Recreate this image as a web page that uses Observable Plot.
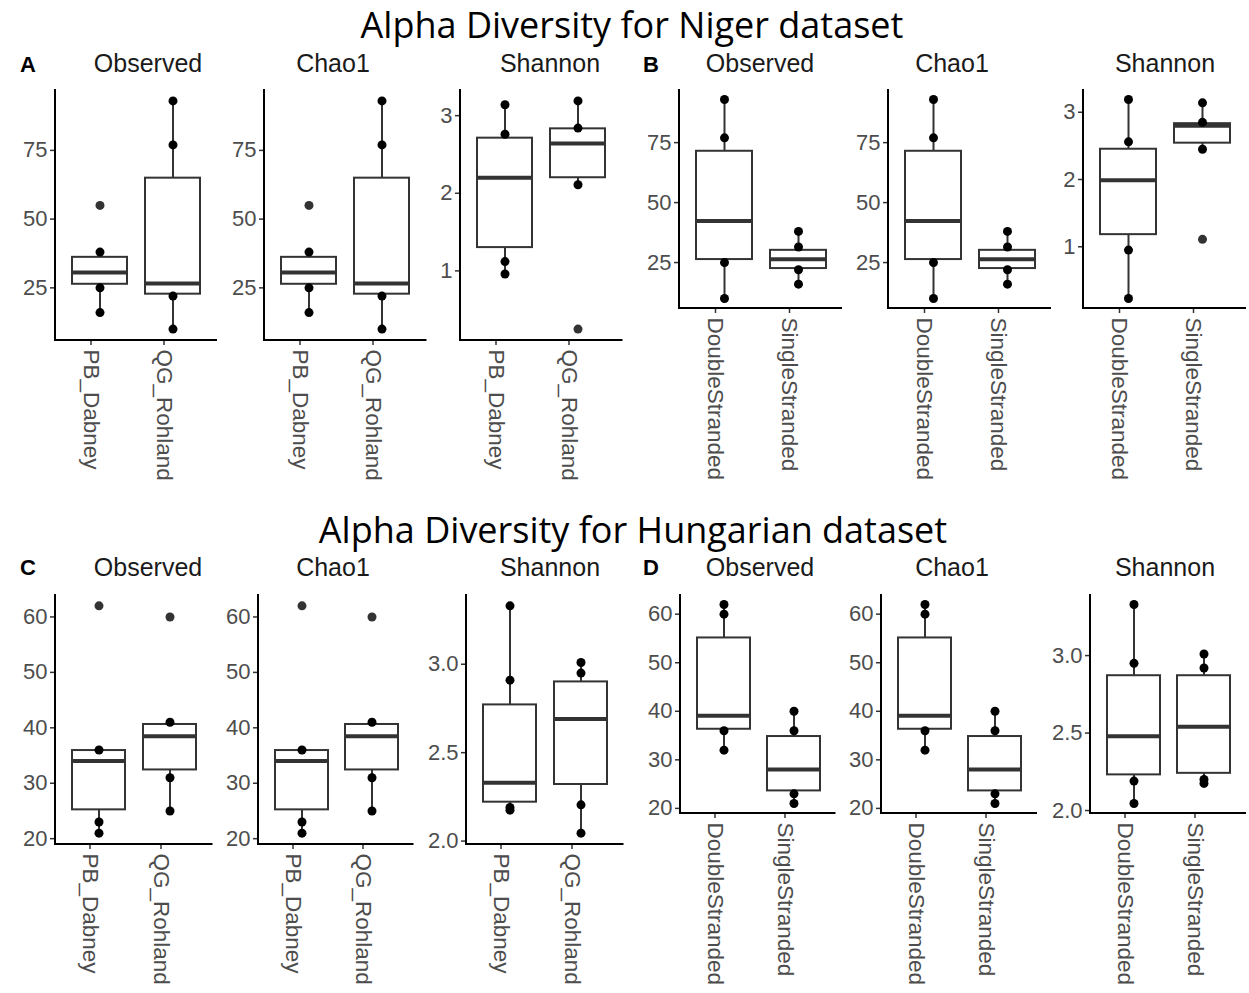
<!DOCTYPE html>
<html><head><meta charset="utf-8">
<script src="https://cdn.jsdelivr.net/npm/d3@7"></script>
<script src="https://cdn.jsdelivr.net/npm/@observablehq/plot@0.6"></script>
<style>
body{margin:0;background:#fff;}
#c{position:relative;width:1249px;height:993px;overflow:hidden;font-family:"Liberation Sans",Arial,sans-serif;background:#fff;}
.t{position:absolute;white-space:nowrap;line-height:1.25;}
.title{font-family:"Open Sans",sans-serif;font-size:36px;color:#000;transform:translate(-50%,-50%);}
.strip{font-size:25px;color:#1a1a1a;transform:translate(-50%,-50%);}
.tag{font-size:22px;font-weight:bold;color:#000;transform:translate(-50%,-50%);}
.pl{position:absolute;}
</style></head><body><div id="c"></div>
<script>
// ---------- categories ----------
const methods = ["PB_Dabney", "QG_Rohland"];
const strands = ["DoubleStranded", "SingleStranded"];
const facetNames = ["Observed", "Chao1", "Shannon"];
const titles = ["Alpha Diversity for Niger dataset", "Alpha Diversity for Hungarian dataset"];
const tags = ["A", "B", "C", "D"];

// ---------- tick labels ----------
const ticksNigerRich = [25, 50, 75];
const ticksNigerShannon = [1, 2, 3];
const ticksHungRich = [20, 30, 40, 50, 60];
const ticksHungShannon = [2.0, 2.5, 3.0];

// ---------- Niger, by method (A) ----------
const nigerMethodObsBox = [
  {group: "PB_Dabney", lo: 16, q1: 26.3, med: 30.6, q3: 36.1, hi: 38},
  {group: "QG_Rohland", lo: 10, q1: 22.7, med: 26.6, q3: 64.9, hi: 93}];
const nigerMethodObsPts = [
  {group: "PB_Dabney", v: 38}, {group: "PB_Dabney", v: 25}, {group: "PB_Dabney", v: 16},
  {group: "QG_Rohland", v: 93}, {group: "QG_Rohland", v: 77}, {group: "QG_Rohland", v: 22}, {group: "QG_Rohland", v: 10}];
const nigerMethodObsOut = [{group: "PB_Dabney", v: 55}];

const nigerMethodChaoBox = [
  {group: "PB_Dabney", lo: 16, q1: 26.3, med: 30.6, q3: 36.1, hi: 38},
  {group: "QG_Rohland", lo: 10, q1: 22.7, med: 26.6, q3: 64.9, hi: 93}];
const nigerMethodChaoPts = [
  {group: "PB_Dabney", v: 38}, {group: "PB_Dabney", v: 25}, {group: "PB_Dabney", v: 16},
  {group: "QG_Rohland", v: 93}, {group: "QG_Rohland", v: 77}, {group: "QG_Rohland", v: 22}, {group: "QG_Rohland", v: 10}];
const nigerMethodChaoOut = [{group: "PB_Dabney", v: 55}];

const nigerMethodShanBox = [
  {group: "PB_Dabney", lo: 0.96, q1: 1.30, med: 2.20, q3: 2.71, hi: 3.14},
  {group: "QG_Rohland", lo: 2.11, q1: 2.20, med: 2.64, q3: 2.83, hi: 3.19}];
const nigerMethodShanPts = [
  {group: "PB_Dabney", v: 3.14}, {group: "PB_Dabney", v: 2.76}, {group: "PB_Dabney", v: 1.12}, {group: "PB_Dabney", v: 0.96},
  {group: "QG_Rohland", v: 3.19}, {group: "QG_Rohland", v: 2.84}, {group: "QG_Rohland", v: 2.11}];
const nigerMethodShanOut = [{group: "QG_Rohland", v: 0.25}];

// ---------- Niger, by library strand (B) ----------
const nigerStrandObsBox = [
  {group: "DoubleStranded", lo: 10, q1: 26.25, med: 42.3, q3: 71.4, hi: 93},
  {group: "SingleStranded", lo: 16, q1: 22.5, med: 26.4, q3: 30.1, hi: 38}];
const nigerStrandObsPts = [
  {group: "DoubleStranded", v: 93}, {group: "DoubleStranded", v: 77}, {group: "DoubleStranded", v: 25}, {group: "DoubleStranded", v: 10},
  {group: "SingleStranded", v: 38}, {group: "SingleStranded", v: 31.5}, {group: "SingleStranded", v: 22}, {group: "SingleStranded", v: 16}];
const nigerStrandObsOut = [];

const nigerStrandChaoBox = [
  {group: "DoubleStranded", lo: 10, q1: 26.25, med: 42.3, q3: 71.4, hi: 93},
  {group: "SingleStranded", lo: 16, q1: 22.5, med: 26.4, q3: 30.1, hi: 38}];
const nigerStrandChaoPts = [
  {group: "DoubleStranded", v: 93}, {group: "DoubleStranded", v: 77}, {group: "DoubleStranded", v: 25}, {group: "DoubleStranded", v: 10},
  {group: "SingleStranded", v: 38}, {group: "SingleStranded", v: 31.5}, {group: "SingleStranded", v: 22}, {group: "SingleStranded", v: 16}];
const nigerStrandChaoOut = [];

const nigerStrandShanBox = [
  {group: "DoubleStranded", lo: 0.23, q1: 1.18, med: 1.99, q3: 2.45, hi: 3.19},
  {group: "SingleStranded", lo: 2.45, q1: 2.54, med: 2.80, q3: 2.83, hi: 3.14}];
const nigerStrandShanPts = [
  {group: "DoubleStranded", v: 3.19}, {group: "DoubleStranded", v: 2.56}, {group: "DoubleStranded", v: 0.95}, {group: "DoubleStranded", v: 0.23},
  {group: "SingleStranded", v: 3.14}, {group: "SingleStranded", v: 2.85}, {group: "SingleStranded", v: 2.45}];
const nigerStrandShanOut = [{group: "SingleStranded", v: 1.11}];

// ---------- Hungarian, by method (C) ----------
const hungMethodObsBox = [
  {group: "PB_Dabney", lo: 21, q1: 25.2, med: 34, q3: 35.9, hi: 36},
  {group: "QG_Rohland", lo: 25, q1: 32.4, med: 38.5, q3: 40.6, hi: 41}];
const hungMethodObsPts = [
  {group: "PB_Dabney", v: 36}, {group: "PB_Dabney", v: 23}, {group: "PB_Dabney", v: 21},
  {group: "QG_Rohland", v: 41}, {group: "QG_Rohland", v: 31}, {group: "QG_Rohland", v: 25}];
const hungMethodObsOut = [{group: "PB_Dabney", v: 62}, {group: "QG_Rohland", v: 60}];

const hungMethodChaoBox = [
  {group: "PB_Dabney", lo: 21, q1: 25.2, med: 34, q3: 35.9, hi: 36},
  {group: "QG_Rohland", lo: 25, q1: 32.4, med: 38.5, q3: 40.6, hi: 41}];
const hungMethodChaoPts = [
  {group: "PB_Dabney", v: 36}, {group: "PB_Dabney", v: 23}, {group: "PB_Dabney", v: 21},
  {group: "QG_Rohland", v: 41}, {group: "QG_Rohland", v: 31}, {group: "QG_Rohland", v: 25}];
const hungMethodChaoOut = [{group: "PB_Dabney", v: 62}, {group: "QG_Rohland", v: 60}];

const hungMethodShanBox = [
  {group: "PB_Dabney", lo: 2.175, q1: 2.22, med: 2.33, q3: 2.77, hi: 3.33},
  {group: "QG_Rohland", lo: 2.045, q1: 2.32, med: 2.69, q3: 2.90, hi: 3.01}];
const hungMethodShanPts = [
  {group: "PB_Dabney", v: 3.33}, {group: "PB_Dabney", v: 2.91}, {group: "PB_Dabney", v: 2.19}, {group: "PB_Dabney", v: 2.175},
  {group: "QG_Rohland", v: 3.01}, {group: "QG_Rohland", v: 2.95}, {group: "QG_Rohland", v: 2.205}, {group: "QG_Rohland", v: 2.045}];
const hungMethodShanOut = [];

// ---------- Hungarian, by library strand (D) ----------
const hungStrandObsBox = [
  {group: "DoubleStranded", lo: 32, q1: 36.3, med: 39.1, q3: 55.1, hi: 62},
  {group: "SingleStranded", lo: 21, q1: 23.6, med: 28.0, q3: 34.8, hi: 40}];
const hungStrandObsPts = [
  {group: "DoubleStranded", v: 62}, {group: "DoubleStranded", v: 60}, {group: "DoubleStranded", v: 36}, {group: "DoubleStranded", v: 32},
  {group: "SingleStranded", v: 40}, {group: "SingleStranded", v: 36}, {group: "SingleStranded", v: 23}, {group: "SingleStranded", v: 21}];
const hungStrandObsOut = [];

const hungStrandChaoBox = [
  {group: "DoubleStranded", lo: 32, q1: 36.3, med: 39.1, q3: 55.1, hi: 62},
  {group: "SingleStranded", lo: 21, q1: 23.6, med: 28.0, q3: 34.8, hi: 40}];
const hungStrandChaoPts = [
  {group: "DoubleStranded", v: 62}, {group: "DoubleStranded", v: 60}, {group: "DoubleStranded", v: 36}, {group: "DoubleStranded", v: 32},
  {group: "SingleStranded", v: 40}, {group: "SingleStranded", v: 36}, {group: "SingleStranded", v: 23}, {group: "SingleStranded", v: 21}];
const hungStrandChaoOut = [];

const hungStrandShanBox = [
  {group: "DoubleStranded", lo: 2.045, q1: 2.23, med: 2.48, q3: 2.87, hi: 3.33},
  {group: "SingleStranded", lo: 2.175, q1: 2.24, med: 2.54, q3: 2.87, hi: 3.01}];
const hungStrandShanPts = [
  {group: "DoubleStranded", v: 3.33}, {group: "DoubleStranded", v: 2.95}, {group: "DoubleStranded", v: 2.19}, {group: "DoubleStranded", v: 2.045},
  {group: "SingleStranded", v: 3.01}, {group: "SingleStranded", v: 2.92}, {group: "SingleStranded", v: 2.20}, {group: "SingleStranded", v: 2.175}];
const hungStrandShanOut = [];

// ---------- layout (plot-area frames in page pixels) ----------
const fmtInt = d => d3.format("d")(d);
const fmt1 = d => d3.format(".1f")(d);
const panels = [
  {x0: 55, x1: 217, y0: 89, y1: 340, cats: methods, box: nigerMethodObsBox, pts: nigerMethodObsPts, out: nigerMethodObsOut, ticks: ticksNigerRich, fmt: fmtInt},
  {x0: 263.5, x1: 426, y0: 89, y1: 340, cats: methods, box: nigerMethodChaoBox, pts: nigerMethodChaoPts, out: nigerMethodChaoOut, ticks: ticksNigerRich, fmt: fmtInt},
  {x0: 459.5, x1: 622, y0: 89, y1: 340, cats: methods, box: nigerMethodShanBox, pts: nigerMethodShanPts, out: nigerMethodShanOut, ticks: ticksNigerShannon, fmt: fmtInt},
  {x0: 679, x1: 842, y0: 89, y1: 308, cats: strands, box: nigerStrandObsBox, pts: nigerStrandObsPts, out: nigerStrandObsOut, ticks: ticksNigerRich, fmt: fmtInt},
  {x0: 887.5, x1: 1050.5, y0: 89, y1: 308, cats: strands, box: nigerStrandChaoBox, pts: nigerStrandChaoPts, out: nigerStrandChaoOut, ticks: ticksNigerRich, fmt: fmtInt},
  {x0: 1083, x1: 1246, y0: 89, y1: 308, cats: strands, box: nigerStrandShanBox, pts: nigerStrandShanPts, out: nigerStrandShanOut, ticks: ticksNigerShannon, fmt: fmtInt},
  {x0: 54.5, x1: 212, y0: 593.5, y1: 843.5, cats: methods, box: hungMethodObsBox, pts: hungMethodObsPts, out: hungMethodObsOut, ticks: ticksHungRich, fmt: fmtInt},
  {x0: 257.5, x1: 413, y0: 593.5, y1: 843.5, cats: methods, box: hungMethodChaoBox, pts: hungMethodChaoPts, out: hungMethodChaoOut, ticks: ticksHungRich, fmt: fmtInt},
  {x0: 465.5, x1: 623, y0: 593.5, y1: 843.5, cats: methods, box: hungMethodShanBox, pts: hungMethodShanPts, out: hungMethodShanOut, ticks: ticksHungShannon, fmt: fmt1},
  {x0: 679.5, x1: 835, y0: 593.5, y1: 812.5, cats: strands, box: hungStrandObsBox, pts: hungStrandObsPts, out: hungStrandObsOut, ticks: ticksHungRich, fmt: fmtInt},
  {x0: 881, x1: 1037, y0: 593.5, y1: 812.5, cats: strands, box: hungStrandChaoBox, pts: hungStrandChaoPts, out: hungStrandChaoOut, ticks: ticksHungRich, fmt: fmtInt},
  {x0: 1090, x1: 1246, y0: 593.5, y1: 812.5, cats: strands, box: hungStrandShanBox, pts: hungStrandShanPts, out: hungStrandShanOut, ticks: ticksHungShannon, fmt: fmt1}
];

const stripPos = [
  {x: 148, y: 64}, {x: 333, y: 64}, {x: 550, y: 64},
  {x: 760, y: 64}, {x: 952, y: 64}, {x: 1165, y: 64},
  {x: 148, y: 568}, {x: 333, y: 568}, {x: 550, y: 568},
  {x: 760, y: 568}, {x: 952, y: 568}, {x: 1165, y: 568}];
const tagPos = [{x: 28, y: 65}, {x: 651, y: 65}, {x: 28, y: 568}, {x: 651, y: 568}];
const titlePos = [{x: 632, y: 24}, {x: 633, y: 529}];

const root = document.getElementById("c");
function addText(cls, txt, p) {
  const d = document.createElement("div");
  d.className = "t " + cls;
  d.textContent = txt;
  d.style.left = p.x + "px";
  d.style.top = p.y + "px";
  root.appendChild(d);
}

// axis lines (left + bottom), drawn from the plot's own dimensions
function axisLines(index, scales, values, dim) {
  const g = d3.create("svg:g");
  const l = dim.marginLeft, b = dim.height - dim.marginBottom, t = dim.marginTop, r = dim.width - dim.marginRight;
  g.append("path").attr("d", `M${l},${t}V${b}H${r}`).attr("fill", "none").attr("stroke", "#000").attr("stroke-width", 2);
  return g.node();
}

const mL = 60, mR = 6, mT = 6, mB = 200;
panels.forEach(p => {
  const W = p.x1 - p.x0, H = p.y1 - p.y0;
  const vals = [...p.pts.map(d => d.v), ...p.out.map(d => d.v), ...p.box.map(d => d.lo), ...p.box.map(d => d.hi)];
  const [mn, mx] = d3.extent(vals);
  const pad = (mx - mn) * 0.05;
  const chart = Plot.plot({
    width: W + mL + mR, height: H + mT + mB,
    marginLeft: mL, marginRight: mR, marginTop: mT, marginBottom: mB,
    style: {background: "transparent", overflow: "visible", maxWidth: "none", fontFamily: "'Liberation Sans', Arial, sans-serif"},
    x: {type: "band", domain: p.cats, paddingInner: 0.25, paddingOuter: 0.225},
    y: {domain: [mn - pad, mx + pad]},
    marks: [
      Plot.ruleX(p.box, {x: "group", y1: "lo", y2: "hi", stroke: "#333", strokeWidth: 2}),
      Plot.barY(p.box, {x: "group", y1: "q1", y2: "q3", fill: "white", stroke: "#333", strokeWidth: 2, inset: 0}),
      Plot.tickY(p.box, {x: "group", y: "med", stroke: "#333", strokeWidth: 4}),
      Plot.dot(p.out, {x: "group", y: "v", r: 4.5, fill: "#333", stroke: "none"}),
      Plot.dot(p.pts, {x: "group", y: "v", r: 4.5, fill: "#000", stroke: "none"}),
      Plot.axisY({ticks: p.ticks, tickFormat: p.fmt, tickSize: 5, tickPadding: 3, fontSize: 22, fill: "#4d4d4d", stroke: "#333", strokeWidth: 1.5, label: null}),
      Plot.axisX({tickRotate: 90, tickSize: 5, tickPadding: 4, dx: -9, fontSize: 22.5, fill: "#4d4d4d", stroke: "#333", strokeWidth: 1.5, label: null}),
      axisLines
    ]
  });
  const wrap = document.createElement("div");
  wrap.className = "pl";
  wrap.style.left = (p.x0 - mL) + "px";
  wrap.style.top = (p.y0 - mT) + "px";
  wrap.appendChild(chart);
  root.appendChild(wrap);
});

titles.forEach((t, i) => addText("title", t, titlePos[i]));
stripPos.forEach((p, i) => addText("strip", facetNames[i % 3], p));
tags.forEach((t, i) => addText("tag", t, tagPos[i]));
</script></body></html>
